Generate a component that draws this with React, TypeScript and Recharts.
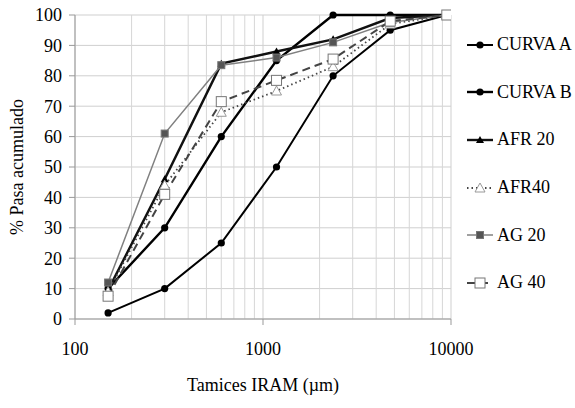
import React from "react";
import { LineChart, Line, XAxis, YAxis, CartesianGrid, ReferenceLine } from "recharts";

// sieve openings (µm) and % passing for each curve
const sieves = [150, 300, 600, 1180, 2360, 4750, 9500];
const curvaA = [2, 10, 25, 50, 80, 95, 100];
const curvaB = [10, 30, 60, 85, 100, 100, 100];
const afr20 = [9.5, 46, 84, 88, 92, 99, 100];
const afr40 = [9, 44, 68, 75, 83, 97, 100];
const ag20 = [12, 61, 83.5, 86, 91, 97.5, 100];
const ag40 = [7.5, 41, 71.5, 78.5, 85.5, 98, 100];

const xTicks = [100, 1000, 10000];
const minorGrid = [200, 300, 400, 500, 600, 700, 800, 900, 2000, 3000, 4000, 5000, 6000, 7000, 8000, 9000];
const yTicks = [0, 10, 20, 30, 40, 50, 60, 70, 80, 90, 100];

const data = sieves.map((s, i) => ({
  s,
  a: curvaA[i],
  b: curvaB[i],
  afr20: afr20[i],
  afr40: afr40[i],
  ag20: ag20[i],
  ag40: ag40[i],
}));

const FONT = "'Liberation Serif', Tinos, 'Times New Roman', 'DejaVu Serif', serif";

type Shape = "circle" | "triangle" | "openTriangle" | "square" | "openSquare";

function marker(shape: Shape, cx: number, cy: number, key?: any) {
  if (shape === "circle") return <circle key={key} cx={cx} cy={cy} r={3.6} fill="#000" />;
  if (shape === "triangle")
    return <polygon key={key} points={`${cx},${cy - 4} ${cx - 4},${cy + 3} ${cx + 4},${cy + 3}`} fill="#000" />;
  if (shape === "openTriangle")
    return (
      <polygon key={key} points={`${cx},${cy - 5} ${cx - 5},${cy + 4} ${cx + 5},${cy + 4}`} fill="#fff" stroke="#999" strokeWidth={1} />
    );
  if (shape === "square") return <rect key={key} x={cx - 3.5} y={cy - 3.5} width={7} height={7} fill="#555" stroke="#777" />;
  return <rect key={key} x={cx - 5} y={cy - 5} width={10} height={10} fill="#fff" stroke="#777" strokeWidth={1} />;
}

const dot = (shape: Shape) => (p: any) => marker(shape, p.cx, p.cy, p.index);

const series = [
  { key: "a", name: "CURVA A", color: "#000", width: 2, dash: undefined as string | undefined, shape: "circle" as Shape },
  { key: "b", name: "CURVA B", color: "#000", width: 2.4, dash: undefined, shape: "circle" as Shape },
  { key: "afr20", name: "AFR 20", color: "#111", width: 2.4, dash: undefined, shape: "triangle" as Shape },
  { key: "afr40", name: "AFR40", color: "#444", width: 1.8, dash: "1.5 3", shape: "openTriangle" as Shape },
  { key: "ag20", name: "AG 20", color: "#808080", width: 1.5, dash: undefined, shape: "square" as Shape },
  { key: "ag40", name: "AG 40", color: "#444", width: 2, dash: "8 5", shape: "openSquare" as Shape },
];

function LegendBox() {
  return (
    <div style={{ position: "absolute", left: 465, top: 21, fontFamily: FONT, fontSize: 18, color: "#000" }}>
      {series.map((s) => (
        <div key={s.key} style={{ display: "flex", alignItems: "center", height: 47.6 }}>
          <svg width={30} height={14} style={{ marginRight: 2 }}>
            <line x1={2} y1={7} x2={28} y2={7} stroke={s.color} strokeWidth={s.width} strokeDasharray={s.dash} />
            {marker(s.shape, 15, 7)}
          </svg>
          <span>{s.name}</span>
        </div>
      ))}
    </div>
  );
}

export default function App() {
  return (
    <div style={{ position: "fixed", left: 0, top: 0, width: 575, height: 408, background: "#fff", fontFamily: FONT }}>
      <LineChart width={575} height={408} data={data} margin={{ top: 15, right: 124, bottom: 49, left: 15 }} style={{ fontFamily: FONT }}>
        <CartesianGrid stroke="#cfcfcf" strokeWidth={1} />
        {minorGrid.map((g) => (
          <ReferenceLine key={g} x={g} stroke="#d6d6d6" strokeWidth={1} />
        ))}
        <XAxis
          dataKey="s"
          type="number"
          scale="log"
          domain={[100, 10000]}
          ticks={xTicks}
          allowDataOverflow
          height={40}
          stroke="#999"
          tickSize={6}
          tickMargin={17}
          tick={{ fill: "#000", fontSize: 18, style: { fontFamily: FONT } }}
          label={{ value: "Tamices IRAM (µm)", position: "insideBottom", offset: -32, fill: "#000", fontSize: 18, style: { fontFamily: FONT } }}
        />
        <YAxis
          type="number"
          domain={[0, 100]}
          ticks={yTicks}
          width={60}
          stroke="#999"
          tickSize={6}
          tickMargin={7}
          tick={{ fill: "#000", fontSize: 18, style: { fontFamily: FONT } }}
          label={{ value: "%  Pasa acumulado", angle: -90, position: "insideLeft", offset: 2, fill: "#000", fontSize: 18, style: { textAnchor: "middle", fontFamily: FONT } }}
        />
        {series.map((s) => (
          <Line
            key={s.key}
            dataKey={s.key}
            name={s.name}
            type="linear"
            stroke={s.color}
            strokeWidth={s.width}
            strokeDasharray={s.dash}
            dot={dot(s.shape)}
            activeDot={false}
            isAnimationActive={false}
          />
        ))}
      </LineChart>
      <LegendBox />
    </div>
  );
}
